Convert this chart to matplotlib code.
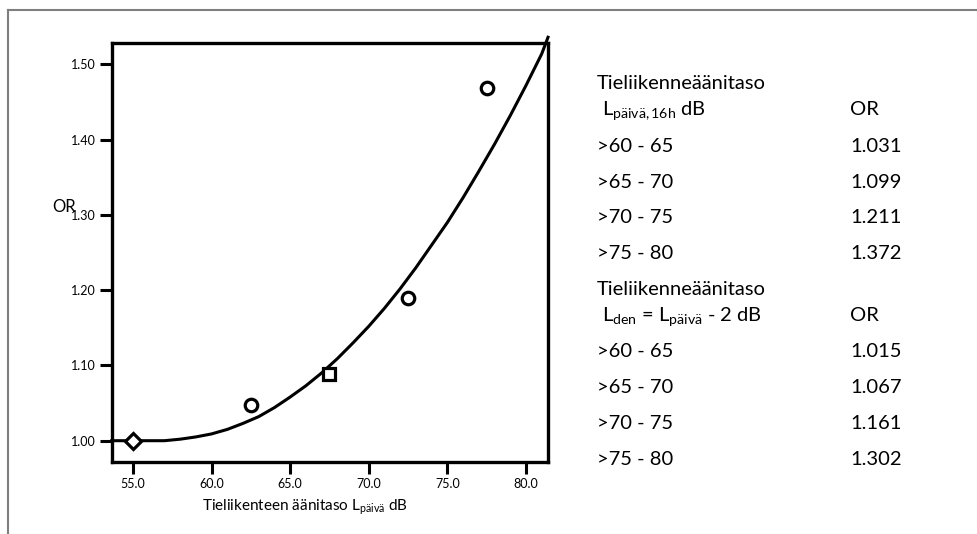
import numpy as np
import matplotlib
matplotlib.use("Agg")
import matplotlib.pyplot as plt
from matplotlib.lines import Line2D

plt.rcParams['font.family'] = ['Lato', 'DejaVu Sans']
plt.rcParams['mathtext.fontset'] = 'custom'
plt.rcParams['mathtext.rm'] = 'Lato'
plt.rcParams['mathtext.it'] = 'Lato'

# fitted curve
curve_x = [53.65, 55, 56, 57, 58, 59, 60, 61, 62, 63, 64, 65, 66, 67, 68, 69, 70,
           71, 72, 73, 74, 75, 76, 77, 78, 79, 80, 81, 81.4]
curve_y = [1.000, 1.000, 1.000, 1.000, 1.002, 1.005, 1.009, 1.015, 1.023, 1.032,
           1.044, 1.058, 1.073, 1.090, 1.109, 1.130, 1.152, 1.176, 1.202, 1.230,
           1.260, 1.290, 1.323, 1.358, 1.394, 1.432, 1.472, 1.514, 1.536]

# observed points
circ_x = [62.5, 72.5, 77.5]
circ_y = [1.048, 1.190, 1.469]
diam_x = [55.0]
diam_y = [0.999]
sq_x = [67.5]
sq_y = [1.088]

xticks = [55, 60, 65, 70, 75, 80]
yticks = [1.00, 1.10, 1.20, 1.30, 1.40, 1.50]

groups = ['>60 - 65', '>65 - 70', '>70 - 75', '>75 - 80']
or_day = ['1.031', '1.099', '1.211', '1.372']
or_den = ['1.015', '1.067', '1.161', '1.302']

W, H = 978, 534
fig = plt.figure(figsize=(W / 100, H / 100), dpi=100)

ax = fig.add_axes([111.7 / W, 1 - 462 / H, (547.7 - 111.7) / W, (462 - 43.3) / H])
ax.plot(curve_x, curve_y, color='black', lw=2.2, clip_on=False, zorder=3)
mk = dict(linestyle='none', mfc='white', mec='black', mew=2.3, ms=9, zorder=4)
ax.plot(circ_x, circ_y, marker='o', **mk)
ax.plot(diam_x, diam_y, marker='D', **dict(mk, ms=8))
ax.plot(sq_x, sq_y, marker='s', **mk)

ax.set_xlim(53.65, 81.38)
ax.set_ylim(0.9717, 1.528)
ax.set_xticks(xticks)
ax.set_xticklabels(['%.1f' % v for v in xticks])
ax.set_yticks(yticks)
ax.set_yticklabels(['%.2f' % v for v in yticks])
ax.tick_params(direction='out', length=8.5, width=2.2, labelsize=9, pad=3)
for s in ax.spines.values():
    s.set_linewidth(2.4)

ax.set_xlabel('Tieliikenteen äänitaso L$_{\\mathrm{päivä}}$ dB', fontsize=11)
ax.xaxis.set_label_coords(0.443, -0.086)
fig.text(52 / W, 1 - 207 / H, 'OR', fontsize=12, va='center', ha='left')

# outer frame (cut off on the right and bottom)
fig.add_artist(Line2D([8 / W, 1], [1 - 10 / H, 1 - 10 / H], color='#7f7f7f', lw=1.5))
fig.add_artist(Line2D([8 / W, 8 / W], [0, 1 - 10 / H], color='#7f7f7f', lw=1.5))

# table on the right
tx, ox = 597 / W, 850 / W
fs = 14.5
dy = 7  # centre of capitals -> baseline
rows1 = [82, 108, 145, 181, 216, 252]
rows2 = [288, 314, 350, 386, 422, 458]


def put(x, y, s):
    fig.text(x, 1 - (y + dy) / H, s, fontsize=fs, va='baseline')


put(tx, rows1[0], 'Tieliikenneäänitaso')
put(tx, rows1[1], ' L$_{\\mathrm{päivä,16h}}$ dB')
put(ox, rows1[1], 'OR')
for i in range(4):
    put(tx, rows1[i + 2], groups[i])
    put(ox, rows1[i + 2], or_day[i])
put(tx, rows2[0], 'Tieliikenneäänitaso')
put(tx, rows2[1], ' L$_{\\mathrm{den}}$ = L$_{\\mathrm{päivä}}$ - 2 dB')
put(ox, rows2[1], 'OR')
for i in range(4):
    put(tx, rows2[i + 2], groups[i])
    put(ox, rows2[i + 2], or_den[i])

fig.savefig('out.png', dpi=100)
